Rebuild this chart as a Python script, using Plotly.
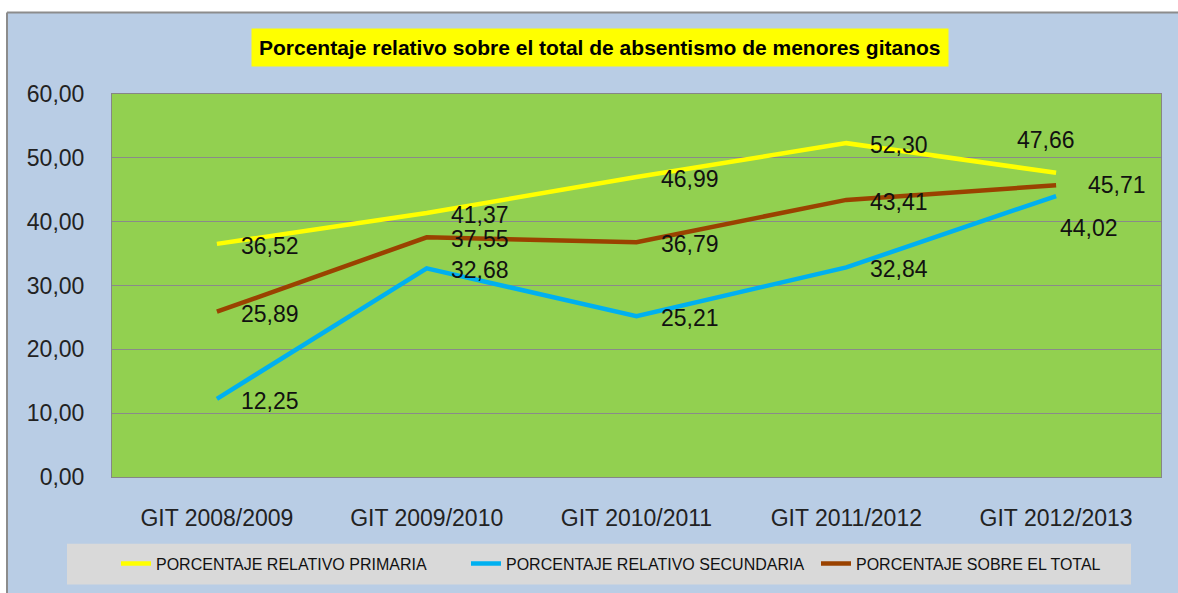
import plotly.graph_objects as go

categories = ["GIT 2008/2009", "GIT 2009/2010", "GIT 2010/2011", "GIT 2011/2012", "GIT 2012/2013"]
primaria = [36.52, 41.37, 46.99, 52.30, 47.66]
secundaria = [12.25, 32.68, 25.21, 32.84, 44.02]
total = [25.89, 37.55, 36.79, 43.41, 45.71]
series_names = ["PORCENTAJE RELATIVO PRIMARIA", "PORCENTAJE RELATIVO SECUNDARIA", "PORCENTAJE SOBRE EL TOTAL"]
title_text = "Porcentaje relativo sobre el total de absentismo de menores gitanos"

# ---- layout geometry (pixels) ----
W, H = 1178, 593
L, R, T, B = 112, 1161, 94, 479
PW, PH = R - L, B - T


def px(x):
    return (x - L) / PW


def py(y):
    return (B - y) / PH


colors = ["#FFFF00", "#00B0F0", "#9A4200"]
FONT = "Liberation Sans"

# label placement per series/point: (xanchor, xshift, yshift)
default_pos = ("left", 22, -2)
special_pos = {
    (0, 4): ("center", -10, 33),
    (1, 4): ("left", 2, -32),
    (2, 4): ("left", 30, 0),
}

fig = go.Figure()
all_series = [primaria, secundaria, total]
x_idx = list(range(len(categories)))
for s, (vals, name, col) in enumerate(zip(all_series, series_names, colors)):
    fig.add_trace(go.Scatter(
        x=x_idx, y=vals, mode="lines", name=name,
        line=dict(color=col, width=4.5), hoverinfo="skip",
    ))

annotations = []
for s, vals in enumerate(all_series):
    for i, v in enumerate(vals):
        xa, xs, ys = special_pos.get((s, i), default_pos)
        annotations.append(dict(
            x=x_idx[i], y=v, xref="x", yref="y",
            text=f"{v:.2f}".replace(".", ","), showarrow=False,
            xanchor=xa, yanchor="middle", xshift=xs, yshift=ys,
            font=dict(family=FONT, size=23, color="#111111"),
        ))

# title box
annotations.append(dict(
    x=px(600), y=py(47), xref="paper", yref="paper",
    text="<b>" + title_text + "</b>", showarrow=False,
    xanchor="center", yanchor="middle",
    bgcolor="#FFFF00", borderpad=7,
    font=dict(family=FONT, size=21, color="#000000"),
))

shapes = [
    # white strips outside the chart frame (top and left)
    dict(type="rect", xref="paper", yref="paper", layer="below",
         x0=px(-20), x1=px(1200), y0=py(12), y1=py(-20),
         fillcolor="#FFFFFF", line=dict(width=0)),
    dict(type="rect", xref="paper", yref="paper", layer="below",
         x0=px(-20), x1=px(7), y0=py(620), y1=py(-20),
         fillcolor="#FFFFFF", line=dict(width=0)),
    # grey frame lines
    dict(type="line", xref="paper", yref="paper", layer="below",
         x0=px(7), x1=px(1200), y0=py(12), y1=py(12),
         line=dict(color="#8C8C8C", width=2)),
    dict(type="line", xref="paper", yref="paper", layer="below",
         x0=px(7), x1=px(7), y0=py(12), y1=py(620),
         line=dict(color="#8C8C8C", width=2)),
    # legend box
    dict(type="rect", xref="paper", yref="paper", layer="below",
         x0=px(67), x1=px(1131), y0=py(587), y1=py(546),
         fillcolor="#D9D9D9", line=dict(width=0)),
]

fig.update_layout(
    width=W, height=H,
    margin=dict(l=L, r=W - R, t=T, b=H - B),
    paper_bgcolor="#B9CDE5",
    plot_bgcolor="#92D050",
    separators=",.",
    showlegend=True,
    legend=dict(
        orientation="h", x=px(116), y=py(566), xanchor="left", yanchor="middle",
        bgcolor="rgba(0,0,0,0)", borderwidth=0,
        entrywidth=305, entrywidthmode="pixels",
        font=dict(family=FONT, size=16, color="#111111"),
        traceorder="normal",
    ),
    annotations=annotations,
    shapes=shapes,
    xaxis=dict(
        range=[-0.5, len(categories) - 0.5],
        tickmode="array", tickvals=x_idx, ticktext=categories,
        showgrid=False, zeroline=False,
        showline=True, linecolor="#868686", linewidth=1, mirror=True,
        ticks="", ticklabelstandoff=20,
        tickfont=dict(family=FONT, size=23, color="#222222"),
    ),
    yaxis=dict(
        range=[0, 60], dtick=10, tickformat=".2f",
        showgrid=True, gridcolor="#8A8A8A", gridwidth=1,
        zeroline=False,
        showline=True, linecolor="#868686", linewidth=1, mirror=True,
        ticks="", ticklabelstandoff=22,
        tickfont=dict(family=FONT, size=23, color="#222222"),
    ),
)

fig.write_html("out.html", config={"displayModeBar": False},
               post_script="document.body.style.margin='0px';")
